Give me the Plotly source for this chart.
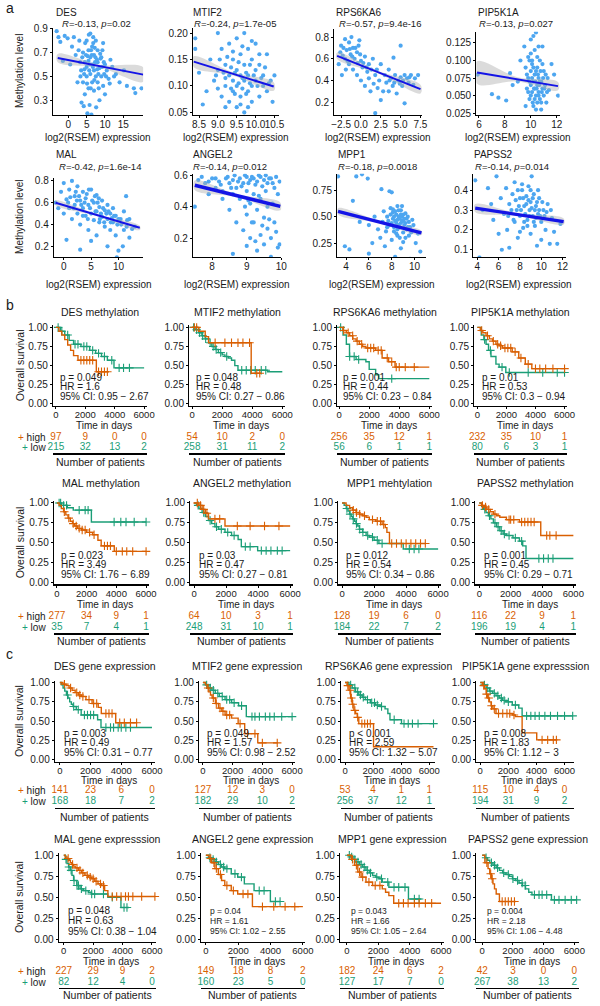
import numpy as np
import plotly.graph_objects as go

# ======================= DATA: panel a (scatter) =======================
A_GENES = ['DES', 'MTIF2', 'RPS6KA6', 'PIP5K1A', 'MAL', 'ANGEL2', 'MPP1', 'PAPSS2']
A_R = ['-0.13', '-0.24', '-0.57', '-0.13', '-0.42', '-0.14', '-0.18', '-0.14']
A_P = ['0.02', '1.7e-05', '9.4e-16', '0.027', '1.6e-14', '0.012', '0.0018', '0.014']

DES_PTS = [(-3.2,0.88),(-2.7,0.83),(-2.2,0.79),(-1.5,0.63),(-1.0,0.84),(-0.2,0.82),(0.5,0.60),(1.0,0.75),(1.5,0.83),(2.0,0.68),
           (2.5,0.45),(2.8,0.72),(3.0,0.80),(3.5,0.55),(4.0,0.70),(4.0,0.45),(4.5,0.62),(4.5,0.35),(5.0,0.80),(5.0,0.50),
           (5.0,0.58),(5.5,0.72),(5.5,0.63),(5.5,0.40),(6.0,0.86),(6.0,0.66),(6.0,0.52),(6.5,0.75),(6.5,0.45),(6.5,0.60),
           (7.0,0.68),(7.0,0.55),(7.0,0.38),(7.5,0.80),(7.5,0.50),(8.0,0.62),(8.0,0.45),(8.0,0.72),(8.5,0.57),(8.5,0.30),
           (9.0,0.66),(9.0,0.50),(9.5,0.78),(9.5,0.42),(10.0,0.60),(10.0,0.35),(10.5,0.55),(11.0,0.48),(11.5,0.64),(4.2,0.25),
           (5.2,0.19),(6.3,0.18),(5.8,0.26),(7.6,0.24),(3.6,0.28),(12.0,0.58),(13.0,0.52),(14.0,0.45),(15.2,0.55),(16.0,0.42),
           (17.9,0.40),(18.3,0.36),(20.0,0.40),(6.8,0.78),(8.8,0.65),(9.8,0.52),(4.8,0.68),(7.3,0.62),
           (3.2,0.62),(3.8,0.66),(4.3,0.52),(4.6,0.78),(5.3,0.67),(5.7,0.55),(6.2,0.72),(6.7,0.58),(7.2,0.74),(7.8,0.64),
           (8.2,0.52),(8.7,0.69),(9.2,0.58),(9.7,0.62),(5.1,0.44),(6.1,0.40),(7.1,0.47),(8.3,0.40),(4.4,0.56),(6.8,0.83),
           (5.6,0.85),(7.9,0.56),(3.3,0.50),(9.3,0.72),(10.3,0.50),(11.3,0.44),(12.5,0.50),(6.4,0.68),(7.4,0.66),(5.9,0.60)]
MTIF2_PTS = [(8.4,0.19),(8.4,0.17),(8.5,0.125),(8.7,0.09),(8.6,0.065),(8.8,0.15),(8.9,0.11),(9.0,0.20),(9.0,0.13),(9.1,0.17),
             (9.1,0.08),(9.2,0.14),(9.2,0.10),(9.3,0.18),(9.3,0.12),(9.3,0.07),(9.4,0.15),(9.4,0.11),(9.4,0.09),(9.5,0.19),
             (9.5,0.13),(9.5,0.10),(9.5,0.06),(9.6,0.16),(9.6,0.12),(9.6,0.08),(9.7,0.20),(9.7,0.14),(9.7,0.11),(9.7,0.05),
             (9.8,0.17),(9.8,0.12),(9.8,0.09),(9.9,0.15),(9.9,0.10),(9.9,0.07),(10.0,0.18),(10.0,0.13),(10.0,0.11),(10.1,0.14),
             (10.1,0.08),(10.2,0.12),(10.2,0.10),(10.3,0.09),(10.3,0.16),(10.4,0.11),(10.5,0.12),(10.45,0.07),(9.0,0.095),(9.2,0.06),
             (9.25,0.155),(9.35,0.135),(9.45,0.125),(9.55,0.145),(9.65,0.115),(9.75,0.125),(9.85,0.14),(9.95,0.12),(9.55,0.105),(9.65,0.095),
             (9.35,0.095),(9.85,0.105),(10.05,0.10),(9.15,0.125),(9.45,0.085),(9.75,0.085),(10.15,0.115),(9.05,0.15),(9.65,0.175),(9.9,0.185),
             (10.25,0.135),(9.4,0.165),(8.95,0.12),(10.35,0.105),(9.6,0.065),(9.8,0.06),(10.1,0.16),(9.2,0.115)]
RPS6KA6_PTS = [(-2.8,0.55),(-2.5,0.72),(-2.3,0.63),(-2.0,0.78),(-2.0,0.60),(-1.8,0.68),(-1.5,0.75),(-1.5,0.55),(-1.3,0.64),(-1.0,0.70),
               (-1.0,0.50),(-0.8,0.60),(-0.5,0.66),(-0.5,0.45),(-0.3,0.72),(0.0,0.58),(0.0,0.40),(0.2,0.52),(0.5,0.62),(0.5,0.35),
               (0.8,0.48),(1.0,0.55),(1.0,0.42),(1.3,0.50),(1.5,0.60),(1.8,0.45),(2.0,0.50),(2.3,0.40),(2.5,0.55),(2.5,0.22),
               (2.8,0.30),(3.0,0.45),(3.2,0.38),(3.5,0.50),(3.5,0.30),(3.8,0.42),(4.1,0.61),(4.0,0.35),(4.3,0.45),(4.5,0.28),
               (4.7,0.40),(5.0,0.72),(5.0,0.43),(5.2,0.35),(5.5,0.45),(5.5,0.19),(5.8,0.42),(6.0,0.38),(6.3,0.45),(6.8,0.42),
               (7.2,0.45),(1.8,0.10),(-1.2,0.80),(-0.2,0.77),(1.2,0.30),
               (-2.6,0.66),(-2.2,0.70),(-1.7,0.58),(-1.4,0.69),(-1.1,0.62),(-0.7,0.70),(-0.4,0.56),(-0.1,0.64),(0.3,0.56),(0.7,0.52),
               (-2.4,0.45),(-1.9,0.50),(3.6,0.40),(4.2,0.38),(4.9,0.37),(5.3,0.40),(6.1,0.43),(2.1,0.33),(1.6,0.37),(6.6,0.36)]
PIP5K1A_PTS = [(5.9,0.080),(7.0,0.052),(7.5,0.047),(8.1,0.043),(8.4,0.082),(8.6,0.065),(9.0,0.070),(9.2,0.100),(12.1,0.050),(11.8,0.080),
               (11.6,0.095),(9.5,0.120),(9.6,0.090),(9.7,0.060),(9.8,0.105),(9.8,0.075),(9.9,0.045),(10.0,0.130),(10.0,0.085),(10.0,0.065),
               (10.1,0.055),(10.1,0.095),(10.2,0.070),(10.2,0.035),(10.3,0.115),(10.3,0.080),(10.3,0.060),(10.4,0.050),(10.4,0.140),(10.5,0.090),
               (10.5,0.065),(10.5,0.040),(10.6,0.075),(10.6,0.055),(10.7,0.100),(10.7,0.045),(10.8,0.070),(10.8,0.030),(10.9,0.060),(11.0,0.085),
               (11.0,0.050),(11.1,0.065),(11.2,0.040),(11.3,0.075),(9.6,0.035),(10.9,0.120),(9.9,0.100),(10.4,0.030),(10.2,0.135),(11.4,0.058),
               (9.7,0.080),(9.9,0.070),(10.0,0.050),(10.1,0.075),(10.2,0.090),(10.25,0.060),(10.35,0.070),(10.45,0.060),(10.55,0.080),(10.6,0.050),
               (10.65,0.065),(10.75,0.085),(10.85,0.055),(10.95,0.075),(11.05,0.060),(11.15,0.080),(10.3,0.045),(10.5,0.105),(10.8,0.040),(10.0,0.110),
               (10.4,0.085),(10.7,0.070),(9.8,0.055),(11.25,0.055),(10.15,0.040),(10.6,0.120),(10.9,0.095),(10.1,0.100)]
MAL_PTS = [(-1.5,0.60),(-1.0,0.55),(-0.5,0.70),(0.0,0.50),(0.0,0.78),(0.5,0.63),(0.5,0.26),(1.0,0.72),(1.0,0.55),(1.5,0.80),
           (1.5,0.45),(2.0,0.66),(2.0,0.58),(2.5,0.75),(2.5,0.50),(3.0,0.62),(3.0,0.40),(3.0,0.17),(3.5,0.70),(3.5,0.55),
           (4.0,0.64),(4.0,0.48),(4.5,0.58),(4.5,0.35),(5.0,0.72),(5.0,0.50),(5.0,0.25),(5.5,0.60),(5.5,0.44),(6.0,0.67),
           (6.0,0.52),(6.0,0.30),(6.5,0.56),(6.5,0.42),(7.0,0.62),(7.0,0.47),(7.5,0.53),(7.5,0.38),(8.0,0.58),(8.0,0.45),
           (8.0,0.20),(8.5,0.50),(8.5,0.35),(9.0,0.55),(9.0,0.42),(9.5,0.48),(9.5,0.30),(10.0,0.45),(10.0,0.16),(10.5,0.40),
           (11.0,0.52),(11.0,0.35),(11.5,0.38),(12.0,0.45),(12.0,0.28),(12.5,0.36),(13.0,0.38),(10.8,0.20),(9.7,0.10),(11.4,0.66),
           (1.2,0.65),(2.2,0.70),(3.2,0.58),(3.8,0.60),(4.2,0.68),(4.8,0.55),(5.2,0.62),(5.8,0.52),(6.2,0.60),(6.8,0.50),
           (7.2,0.55),(7.8,0.50),(8.2,0.52),(8.8,0.46),(9.2,0.48),(2.8,0.66),(3.5,0.48),(4.4,0.45),(5.7,0.66),(6.6,0.45),
           (7.4,0.42),(8.6,0.42),(9.8,0.40),(10.4,0.45),(0.8,0.60),(1.8,0.55),(2.4,0.62),(4.6,0.72),(6.4,0.64),(11.6,0.44)]
ANGEL2_PTS = [(7.5,0.40),(7.6,0.57),(7.8,0.55),(7.9,0.48),(8.0,0.58),(8.1,0.52),(8.2,0.56),(8.3,0.50),(8.3,0.45),(8.4,0.58),
              (8.5,0.55),(8.5,0.38),(8.6,0.57),(8.7,0.52),(8.7,0.30),(8.8,0.58),(8.8,0.45),(8.9,0.55),(8.9,0.25),(9.0,0.59),
              (9.0,0.50),(9.0,0.35),(9.0,0.15),(9.1,0.57),(9.1,0.42),(9.1,0.20),(9.2,0.58),(9.2,0.48),(9.2,0.30),(9.3,0.56),
              (9.3,0.38),(9.3,0.12),(9.4,0.59),(9.4,0.45),(9.4,0.22),(9.5,0.57),(9.5,0.33),(9.5,0.16),(9.6,0.55),(9.6,0.40),
              (9.6,0.26),(9.7,0.58),(9.7,0.20),(9.7,0.08),(9.8,0.52),(9.8,0.30),(9.9,0.48),(9.9,0.14),(9.95,0.56),(9.95,0.16),
              (8.6,0.10),(9.2,0.04),
              (7.7,0.59),(7.9,0.56),(8.1,0.58),(8.25,0.54),(8.45,0.59),(8.55,0.52),(8.65,0.60),(8.75,0.56),(8.85,0.53),(8.95,0.60),
              (9.05,0.55),(9.15,0.59),(9.25,0.54),(9.35,0.60),(9.45,0.53),(9.55,0.60),(9.65,0.58),(9.75,0.55),(9.85,0.59),(9.05,0.44),
              (9.35,0.47),(9.55,0.50),(9.15,0.30),(9.45,0.28),(9.65,0.32),(8.95,0.40),(9.25,0.18),(9.75,0.42),(8.6,0.48),(9.85,0.24)]
MPP1_PTS = [(3.3,0.88),(4.9,0.88),(5.4,0.90),(5.9,0.86),(7.1,0.76),(7.8,0.74),(8.0,0.73),(4.6,0.65),(3.9,0.22),(4.3,0.19),
            (6.0,0.15),(7.0,0.09),(9.6,0.10),(5.2,0.45),(6.0,0.42),(6.5,0.50),(6.8,0.38),(7.0,0.30),(7.2,0.45),(7.3,0.55),
            (7.5,0.36),(7.6,0.50),(7.8,0.42),(7.9,0.58),(8.0,0.28),(8.1,0.48),(8.2,0.36),(8.3,0.55),(8.4,0.44),(8.5,0.60),
            (8.5,0.32),(8.6,0.50),(8.7,0.40),(8.8,0.56),(8.8,0.20),(8.9,0.46),(9.0,0.35),(9.0,0.52),(9.1,0.42),(9.2,0.30),
            (9.3,0.48),(9.4,0.40),(9.5,0.45),(9.7,0.35),(9.9,0.42),(10.1,0.25),(10.5,0.17),(8.3,0.12),(7.4,0.22),(8.9,0.60),
            (6.3,0.25),(9.2,0.53),
            (7.7,0.46),(7.9,0.52),(8.0,0.44),(8.1,0.54),(8.2,0.50),(8.3,0.46),(8.4,0.52),(8.5,0.47),(8.6,0.42),(8.6,0.56),
            (8.7,0.48),(8.8,0.44),(8.9,0.50),(9.0,0.46),(9.1,0.48),(9.2,0.44),(9.3,0.38),(9.4,0.50),(9.6,0.40),(8.2,0.40),
            (8.4,0.34),(8.7,0.30),(9.0,0.26),(9.5,0.32),(7.6,0.40),(8.8,0.52),(9.8,0.47),(8.1,0.57),(10.3,0.34),(8.5,0.38)]
PAPSS2_PTS = [(3.8,0.45),(4.2,0.06),(4.5,0.30),(5.0,0.41),(5.3,0.33),(5.5,0.25),(5.8,0.47),(6.0,0.18),(6.2,0.36),(6.5,0.28),
              (6.7,0.41),(6.8,0.20),(7.0,0.33),(7.0,0.11),(7.3,0.38),(7.4,0.25),(7.5,0.44),(7.7,0.30),(7.8,0.16),(8.0,0.36),
              (8.0,0.27),(8.2,0.40),(8.3,0.21),(8.4,0.32),(8.5,0.05),(8.6,0.37),(8.7,0.25),(8.8,0.42),(8.9,0.30),(9.0,0.34),
              (9.0,0.18),(9.2,0.27),(9.3,0.38),(9.4,0.22),(9.5,0.32),(9.6,0.12),(9.7,0.28),(9.8,0.36),(10.0,0.24),(10.0,0.15),
              (10.2,0.30),(10.4,0.20),(10.6,0.33),(10.8,0.13),(11.0,0.26),(11.2,0.19),(11.5,0.13),(11.8,0.23),(9.1,0.47),(6.3,0.10),
              (7.2,0.30),(7.6,0.35),(7.9,0.32),(8.1,0.30),(8.3,0.36),(8.5,0.28),(8.6,0.33),(8.8,0.35),(8.9,0.27),(9.1,0.31),
              (9.2,0.36),(9.4,0.30),(9.5,0.26),(9.6,0.34),(9.8,0.30),(9.9,0.27),(10.1,0.34),(10.3,0.27),(8.4,0.24),(8.7,0.22),
              (9.3,0.24),(7.5,0.24),(8.2,0.43),(9.7,0.40),(10.5,0.29),(6.9,0.27),(7.8,0.40),(10.9,0.30),(9.0,0.40),(8.0,0.19)]
A_POINTS = [DES_PTS, MTIF2_PTS, RPS6KA6_PTS, PIP5K1A_PTS, MAL_PTS, ANGEL2_PTS, MPP1_PTS, PAPSS2_PTS]

# regression line end points and confidence half-widths (left, middle, right)
FIT_X = [[-2.9, 20.5], [8.36, 10.48], [-3.0, 7.5], [5.85, 12.1], [-1.5, 13.9], [7.5, 9.97], [3.3, 10.6], [3.8, 12.1]]
FIT_Y = [[0.654, 0.515], [0.146, 0.099], [0.627, 0.321], [0.083, 0.0635], [0.60, 0.37], [0.537, 0.402], [0.55, 0.347], [0.31, 0.242]]
BAND_HW = [[0.035, 0.012, 0.06], [0.01, 0.003, 0.008], [0.03, 0.012, 0.04], [0.016, 0.003, 0.006],
           [0.02, 0.008, 0.02], [0.03, 0.008, 0.025], [0.03, 0.01, 0.02], [0.02, 0.006, 0.015]]

A_XTICKS = [[0, 5, 10, 15], [8.5, 9.0, 9.5, 10.0, 10.5], [-2.5, 0.0, 2.5, 5.0, 7.5], [6, 8, 10, 12],
            [0, 5, 10], [8, 9, 10], [4, 6, 8, 10], [4, 6, 8, 10, 12]]
A_YTICKS = [[0.3, 0.5, 0.7, 0.9], [0.05, 0.10, 0.15, 0.20], [0.2, 0.4, 0.6, 0.8], [0.025, 0.05, 0.075, 0.1, 0.125],
            [0.2, 0.4, 0.6, 0.8], [0.2, 0.4, 0.6], [0.25, 0.5, 0.75], [0.1, 0.2, 0.3, 0.4]]

# ======================= DATA: panels b, c (Kaplan-Meier) =======================
B_TITLES = ['DES methylation', 'MTIF2 methylation', 'RPS6KA6 methylation', 'PIP5K1A methylation',
            'MAL methylation', 'ANGEL2 methylation', 'MPP1 mehtylation', 'PAPSS2 methylation']
B_P = ['p = 0.049', 'p = 0.048', 'p = 0.001', 'p = 0.01', 'p = 0.023', 'p = 0.03', 'p = 0.012', 'p = 0.001']
B_HR = ['HR = 1.6', 'HR = 0.48', 'HR = 0.44', 'HR = 0.53', 'HR = 3.49', 'HR = 0.47', 'HR = 0.54', 'HR = 0.45']
B_CI = ['95% CI: 0.95 − 2.67', '95% CI: 0.27 − 0.86', '95% CI: 0.23 − 0.84', '95% CI: 0.3 − 0.94',
        '95% CI: 1.76 − 6.89', '95% CI: 0.27 − 0.81', '95% CI: 0.34 − 0.86', '95% CI: 0.29 − 0.71']

B_HI_T = [[0,200,400,600,800,1000,1200,1500,2750],
          [0,440,870,1090,3930],
          [0,250,480,700,910,1130,1340,1560,1780,2430,2860,3290,3720],
          [0,200,380,600,830,1050,1280,1500,1730,2400,2850,3300,3750],
          [0,150,300,450,600,750,900,1050,1200,1400,1650,2000,2400,2760,2980,3860],
          [0,300,500,700,900,1930],
          [0,250,470,660,870,1080,1280,1500,1700,2100,2500,2700,2800,2960],
          [0,150,300,480,700,900,1100,1310,1730,2560,3920]]
B_HI_S = [[1,0.95,0.9,0.84,0.77,0.7,0.63,0.57,0.42],
          [1,0.95,0.88,0.8,0.4],
          [1,0.96,0.93,0.89,0.85,0.82,0.78,0.75,0.73,0.7,0.6,0.55,0.48],
          [1,0.96,0.93,0.89,0.85,0.82,0.78,0.76,0.73,0.68,0.6,0.52,0.46],
          [1,0.97,0.93,0.89,0.85,0.81,0.77,0.74,0.71,0.68,0.66,0.63,0.6,0.53,0.46,0.39],
          [1,0.97,0.92,0.87,0.8,0.71],
          [1,0.97,0.94,0.91,0.88,0.86,0.84,0.82,0.79,0.77,0.73,0.69,0.63,0.49],
          [1,0.97,0.95,0.92,0.89,0.86,0.84,0.82,0.79,0.76,0.59]]
B_HI_END = [3600, 4580, 6000, 6000, 6000, 6000, 5250, 6000]
B_HI_CENS = [[1700,1900,2100,2300,2500,2900,3100,3300,3500],
             [150,300,1530,2180,2620,3050,3380,3820,4300,4500],
             [300,600,900,1200,1500,1900,2100,2300,2600,2800,3200,3500,3800,4000,4400,5000],
             [300,700,1100,1400,1600,1900,2100,2300,2600,3000,3500,4000,4300,4700,5200,6000],
             [500,800,1100,1300,1500,1700,1900,2200,2500,3200,3400,3600,4000,4400,4700,5100,6000],
             [200,400,600,800,1300,1600,2700,3500,4400,5300],
             [700,900,1100,1400,1900,2200,2400,2600,3100,3400,3700,4000,4300,4600,4900,5200],
             [200,400,600,1000,1900,2000,2200,2700,2900,3100,3300,3500,4300,4500,4900]]
B_LO_T = [[0,300,600,900,1200,1700,2300,2700,3100,3500,3950],
          [0,200,440,650,870,1100,1310,1530,1750,2000,2180,2400,2620,2840,3050,5020],
          [0,260,480,690,1130,1780,2000,2430,2640],
          [0,270,450,600,770,940,1280,1500,1960],
          [0,300,700,1100,2320],
          [0,150,300,500,700,900,1100,1300,1530,1930,2340,2750,2950,3970],
          [0,130,260,370,470,570,670,780,870,980,1080,1280,1500,1700,2000,2300,3820],
          [0,150,270,430,580,740,900,1100,1310,1520,1730,2150,2560,2770,2980]]
B_LO_S = [[1,0.95,0.9,0.83,0.78,0.75,0.70,0.66,0.62,0.57,0.47],
          [1,0.97,0.93,0.89,0.85,0.8,0.75,0.71,0.67,0.64,0.62,0.6,0.57,0.5,0.44,0.42],
          [1,0.9,0.78,0.62,0.58,0.55,0.45,0.38,0.33],
          [1,0.9,0.84,0.78,0.7,0.62,0.52,0.48,0.41],
          [1,0.97,0.94,0.91,0.76],
          [1,0.97,0.93,0.88,0.83,0.78,0.74,0.7,0.67,0.63,0.59,0.54,0.45,0.4],
          [1,0.97,0.93,0.9,0.86,0.83,0.8,0.77,0.74,0.71,0.67,0.63,0.59,0.57,0.53,0.49,0.42],
          [1,0.96,0.92,0.88,0.84,0.8,0.75,0.7,0.65,0.61,0.59,0.56,0.52,0.46,0.3]]
B_LO_END = [6000, 6000, 6000, 6000, 6000, 6000, 6000, 6000]
B_LO_CENS = [[150,400,800,1300,1500,1900,2100,2500,2900,3300,3800,4300,4600,5000],
             [100,300,500,700,900,1200,1400,1600,1900,2300,3300,3600,3900,4200,4600,4900],
             [100,700,1000,1300,3500],
             [500,900,1700,2200,3500,4500,5500,6000],
             [150,250,450,650,1500,1900,2100,3850,4300,4650,5200,6000],
             [250,600,1000,1400,1700,2100,2500,3200,3500,4200,4500,4800,5200,5500],
             [300,500,700,900,1100,1300,1600,1900,2200,2500,4200,4500,4800],
             [350,650,1000,1200,1400,1600,1900,2300,2700,3800,4100,4400,4700]]
B_RISK_HI = [[97,9,0,0],[54,10,2,0],[256,35,12,1],[232,35,10,1],[277,34,9,1],[64,10,3,1],[128,19,6,0],[116,22,9,1]]
B_RISK_LO = [[215,32,13,2],[258,31,11,2],[56,6,1,1],[80,6,3,1],[35,7,4,1],[248,31,10,1],[184,22,7,2],[196,19,4,1]]

C_TITLES = ['DES gene expression', 'MTIF2 gene expression', 'RPS6KA6 gene expression', 'PIP5K1A gene expresssion',
            'MAL gene expresssion', 'ANGEL2 gene expression', 'MPP1 gene expression', 'PAPSS2 gene expression']
C_P = ['p = 0.003', 'p = 0.049', 'p < 0.001', 'p = 0.008', 'p = 0.048', 'p = 0.04', 'p = 0.043', 'p = 0.004']
C_HR = ['HR = 0.49', 'HR = 1.57', 'HR = 2.59', 'HR = 1.83', 'HR = 0.63', 'HR = 1.61', 'HR = 1.66', 'HR = 2.18']
C_CI = ['95% CI: 0.31 − 0.77', '95% CI: 0.98 − 2.52', '95% CI: 1.32 − 5.07', '95% CI: 1.12 − 3',
        '95% CI: 0.38 − 1.04', '95% CI: 1.02 − 2.55', '95% CI: 1.05 − 2.64', '95% CI: 1.06 − 4.48']
C_HI_T = [[0,200,400,600,800,1000,1200,1400,1700,2100,2500,2700,3640],
          [0,170,290,400,510,620,840,1050,1270,1490,1930,2370,2810,3690],
          [0,150,280,400,510,630,750,870,980,2030],
          [0,150,300,420,530,650,770,900,1120,2280,2500,2980,4020],
          [0,100,220,330,450,550,670,780,1000,1220,1440,1670,1890,2110,2330,2560,2780,3000],
          [0,200,360,560,770,970,1170,1570,1970,2880],
          [0,270,480,690,900,1210,1630,2250,2460,2670,2980],
          [0,170,380,490,600,700,800,910,1120]]
C_HI_S = [[1,0.98,0.96,0.93,0.9,0.87,0.84,0.82,0.78,0.73,0.68,0.6,0.48],
          [1,0.97,0.93,0.88,0.84,0.8,0.73,0.67,0.63,0.58,0.54,0.47,0.34,0.22],
          [1,0.96,0.9,0.8,0.72,0.64,0.6,0.55,0.47,0.17],
          [1,0.96,0.92,0.85,0.8,0.75,0.7,0.66,0.6,0.58,0.56,0.35,0.26],
          [1,0.98,0.96,0.94,0.91,0.89,0.87,0.85,0.82,0.79,0.76,0.74,0.72,0.69,0.66,0.64,0.58,0.51],
          [1,0.96,0.91,0.84,0.77,0.7,0.64,0.58,0.54,0.39],
          [1,0.95,0.88,0.8,0.74,0.68,0.64,0.6,0.56,0.52,0.43],
          [1,0.91,0.84,0.78,0.72,0.66,0.6,0.54,0.45]]
C_HI_END = [5040, 5010, 6300, 5420, 6220, 6000, 6000, 2180]
C_HI_CENS = [[300,700,1100,1300,1500,1900,2200,2400,3000,3200,3400,3900,4200,4600,5000],
             [350,700,900,1150,1350,1600,1800,2500,3000,3500,4000,5000],
             [200,350,450,550,700,900,1200,1400,1600,1800],
             [250,450,600,800,1000,1300,1600,1900,2100,2400,4400,4800,5200,5420],
             [300,600,900,1100,1300,1600,1800,2000,2200,2500,2700,3300,3600,3900,4200,4400,4700,5300,6200],
             [300,500,650,900,1300,1700,2300,2600,3500,4200,4900,5500],
             [350,600,800,1000,1400,1800,2100,3300,3600,3900,4300,4600,5000,5400],
             [300,550,650,1300,1500,1700,1900,2100]]
C_LO_T = [[0,100,210,320,430,530,640,750,860,1070,1390,2460,2680],
          [0,170,400,600,830,1100,1490,1930,2400,2920],
          [0,280,510,750,980,1220,1450,1800,2150,2500,2850,3050,3200,4020],
          [0,200,420,650,880,1120,1350,1580,1820,2280,2740,2980],
          [0,110,220,330,440,560,670,890,1110,1330,1670,1890,3000,3890],
          [0,160,360,560,770,970,1170,1570,1970,2380,2980,3990],
          [0,200,380,580,790,1000,1210,1420,1630,1840,2040,2250,2670,3920],
          [0,170,350,490,700,910,1120,1330,1550,1760,1970,2180,2400,2610,2820,3030,3240,4510]]
C_LO_S = [[1,0.97,0.93,0.89,0.84,0.8,0.75,0.72,0.69,0.65,0.58,0.52,0.42],
          [1,0.97,0.93,0.9,0.86,0.82,0.78,0.74,0.7,0.56],
          [1,0.97,0.93,0.88,0.84,0.81,0.78,0.74,0.71,0.69,0.66,0.6,0.52,0.47],
          [1,0.97,0.93,0.89,0.86,0.83,0.8,0.77,0.75,0.71,0.67,0.57],
          [1,0.95,0.9,0.86,0.82,0.76,0.7,0.64,0.6,0.58,0.56,0.54,0.5,0.38],
          [1,0.97,0.95,0.92,0.89,0.86,0.84,0.78,0.74,0.66,0.58,0.45],
          [1,0.98,0.95,0.92,0.89,0.86,0.82,0.79,0.76,0.74,0.72,0.68,0.62,0.48],
          [1,0.97,0.94,0.91,0.88,0.85,0.82,0.79,0.77,0.75,0.72,0.7,0.67,0.64,0.6,0.56,0.53,0.47]]
C_LO_END = [6000, 6000, 6300, 6580, 4440, 4590, 4750, 6150]
C_LO_CENS = [[500,900,1200,1600,1800,2000,2200,3000,3300,3500,3800,4000,4300,4600],
             [250,500,700,1000,1300,1600,1800,2100,2600,3300,3500,3800,4200,4500,4800,5300,6000],
             [400,700,900,1100,1300,1600,1900,2100,2300,2600,3500,4200,4500,4800,5200,6300],
             [300,500,700,1000,1250,1500,1700,2000,2500,3300,3600,3900,4200,4600,5000,5500,6000,6580],
             [150,350,500,700,900,1000,1200,1500,1900,2100,2700,3300,4100,4300],
             [250,450,650,900,1100,1300,1800,2200,3300,3600,4300,4590],
             [150,300,500,700,900,1100,1300,1500,1900,2200,2600,3000,3300,3700,4300,4600],
             [250,600,800,1000,1400,1700,2000,2300,2600,2800,3400,3700,3900,4200,4700,5000,5400,5800,6150]]
C_RISK_HI = [[141,23,6,0],[127,12,3,0],[53,4,1,1],[115,10,4,0],[227,29,9,2],[149,18,8,2],[182,24,6,2],[42,3,0,0]]
C_RISK_LO = [[168,18,7,2],[182,29,10,2],[256,37,12,1],[194,31,9,2],[82,12,4,0],[160,23,5,0],[127,17,7,0],[267,38,13,2]]

RISK_TIMES = [0, 2000, 4000, 6000]
KM_XTICKS = [0, 2000, 4000, 6000]
KM_YTICKS = [0.0, 0.25, 0.5, 0.75, 1.0]

# ======================= STYLE / LAYOUT =======================
W, H = 600, 1006
ORANGE = '#D95F02'
GREEN = '#1B9E77'
PT_COL = '#4DA6F0'
LINE_COL = '#1414E6'
FONT = 'Liberation Sans, Arial, sans-serif'
TXT = '#1a1a1a'


def fx(px):
    return px / W


def fy(py):
    return 1 - py / H


# scatter boxes (left, right, top, bottom) in px; tick anchors (value, px, value, px) give the axis scale
A_BOX = [(51, 143, 24, 112), (194, 282, 24, 112), (338, 428, 25, 112), (483, 568, 28, 112),
         (52, 143, 175, 255), (194, 284, 171, 255), (341, 432, 171, 255), (480, 574, 171, 255)]
A_XANCH = [(0, 66.7, 15, 122.7), (8.5, 200, 10.5, 277), (-2.5, 345, 7.5, 426), (6, 485.7, 12, 565),
           (0, 62, 10, 117.8), (8, 213.4, 10, 284), (4, 350, 10, 420), (4, 484, 12, 571)]
A_YANCH = [(0.9, 25, 0.3, 97), (0.20, 29.3, 0.05, 109.3), (0.8, 33.3, 0.2, 99), (0.125, 39.3, 0.025, 110),
           (0.8, 178.3, 0.2, 244.3), (0.6, 172.7, 0.2, 236), (0.75, 187.7, 0.25, 241), (0.4, 187.7, 0.1, 247.7)]
A_XFMT = ['d', '.1f', '.1f', 'd', 'd', 'd', 'd', 'd']
A_YFMT = ['.1f', '.2f', '.1f', '.3f', '.1f', '.1f', '.2f', '.1f']
A_TITLE_X = [52, 192, 338, 483, 52, 192, 340, 479]
A_TITLE_Y = [8.5, 8.5, 8.5, 8.5, 152, 152, 152, 152]
A_R_X = [58, 193, 341, 484, 55, 192, 340, 480]
A_R_Y = [19.5, 19.5, 19.5, 19.5, 163.5, 163.5, 163.5, 163.5]
A_XTITLE_Y = [135, 283]
A_LINEW = [2, 2, 2, 2, 2, 3.5, 3.5, 3.2]

# KM rows: (Y of 1.00, Y of 0.00, title y, time title y, high row y, low row y, "Number" y)
KM_ROWS = [(326, 403, 310, 425, 437, 447, 462),
           (503, 583, 483, 605, 617.5, 628.5, 642),
           (684, 762, 667, 783, 793, 804, 820),
           (858, 943, 842, 965, 975, 986, 999)]
KM_COLS = [[(51, 54, 144, 147), (190, 193, 285, 288), (341, 343, 435, 438), (481, 484, 573, 576)],
           [(52, 55, 146, 149), (191, 195, 293, 296), (342, 346, 444, 447), (482, 486, 582, 585)],
           [(53, 58, 152, 155), (200, 204, 295, 298), (345, 349, 435, 441), (483, 487, 573, 583)],
           [(57, 62, 152, 156), (202, 207, 306, 308), (344, 351, 447, 450), (483, 489, 583, 588)]]
STAT_SIZE = [[10, 10, 10, 10], [10, 10, 10, 10], [10, 10, 10, 10], [10, 8.5, 8.5, 8.5]]

fig = go.Figure()
layout = {}
annotations = []
counter = [0]

BASE_AX = dict(showline=True, linecolor='black', linewidth=1.2, ticks='outside', ticklen=2, tickwidth=1,
               tickcolor='black', showgrid=False, zeroline=False, fixedrange=True, tickangle=0,
               tickfont=dict(size=10, color=TXT, family=FONT))


def new_axes(left, right, top, bottom, xr, yr):
    counter[0] += 1
    n = counter[0]
    s = '' if n == 1 else str(n)
    xa = dict(BASE_AX)
    xa.update(domain=[fx(left), fx(right)], range=xr, anchor='y' + s, ticklabelstandoff=-2)
    ya = dict(BASE_AX)
    ya.update(domain=[fy(bottom), fy(top)], range=yr, anchor='x' + s)
    layout['xaxis' + s] = xa
    layout['yaxis' + s] = ya
    return 'x' + s, 'y' + s, 'xaxis' + s, 'yaxis' + s


def ann(text, x, y, size=10, xanchor='center', yanchor='middle', color=TXT, angle=0, xref='paper', yref='paper'):
    annotations.append(dict(text=text, x=x, y=y, xref=xref, yref=yref, showarrow=False, xanchor=xanchor,
                            yanchor=yanchor, textangle=angle, font=dict(size=size, color=color, family=FONT)))


def anchored_range(anchor, p_lo, p_hi):
    v1, p1, v2, p2 = anchor
    k = (v2 - v1) / (p2 - p1)
    return [v1 + (p_lo - p1) * k, v1 + (p_hi - p1) * k]


# ---------------- panel a ----------------
for i in range(8):
    left, right, top, bottom = A_BOX[i]
    xrange_ = anchored_range(A_XANCH[i], left, right)
    yrange_ = anchored_range(A_YANCH[i], bottom, top)
    xr, yr, xaxn, yaxn = new_axes(left, right, top, bottom, xrange_, yrange_)
    layout[xaxn].update(tickvals=A_XTICKS[i], tickformat=A_XFMT[i])
    layout[yaxn].update(tickvals=A_YTICKS[i], tickformat=A_YFMT[i])
    pts = A_POINTS[i]
    fig.add_trace(go.Scatter(x=[p[0] for p in pts], y=[p[1] for p in pts], mode='markers', xaxis=xr, yaxis=yr,
                             marker=dict(color=PT_COL, size=4.2, line=dict(width=0)), showlegend=False))
    x0, x1 = FIT_X[i]
    y0, y1 = FIT_Y[i]
    xm, ym = (x0 + x1) / 2, (y0 + y1) / 2
    bl, bm, br = BAND_HW[i]
    fig.add_trace(go.Scatter(x=[x0, xm, x1, x1, xm, x0, x0],
                             y=[y0 + bl, ym + bm, y1 + br, y1 - br, ym - bm, y0 - bl, y0 + bl],
                             mode='lines', line=dict(width=0, shape='spline'), fill='toself',
                             fillcolor='rgba(175,175,175,0.45)', xaxis=xr, yaxis=yr, showlegend=False))
    fig.add_trace(go.Scatter(x=[x0, x1], y=[y0, y1], mode='lines', line=dict(color=LINE_COL, width=A_LINEW[i]),
                             xaxis=xr, yaxis=yr, showlegend=False))
    ann(A_GENES[i], fx(A_TITLE_X[i]), fy(A_TITLE_Y[i]), size=10, xanchor='left')
    ann('<i>R</i>=' + A_R[i] + ', <i>p</i>=' + A_P[i], fx(A_R_X[i]), fy(A_R_Y[i]), size=9.5, xanchor='left')
    ann('log2(RSEM) expression', fx((left + right) / 2), fy(A_XTITLE_Y[i // 4]), size=10)

ann('Methylation level', fx(17), fy((A_BOX[0][2] + A_BOX[0][3]) / 2), size=10, angle=-90)
ann('Methylation level', fx(17), fy((A_BOX[4][2] + A_BOX[4][3]) / 2), size=10, angle=-90)

# ---------------- panels b and c ----------------
KM_SETS = [
    (B_TITLES, B_P, B_HR, B_CI, B_HI_T, B_HI_S, B_HI_END, B_HI_CENS, B_LO_T, B_LO_S, B_LO_END, B_LO_CENS, B_RISK_HI, B_RISK_LO),
    (C_TITLES, C_P, C_HR, C_CI, C_HI_T, C_HI_S, C_HI_END, C_HI_CENS, C_LO_T, C_LO_S, C_LO_END, C_LO_CENS, C_RISK_HI, C_RISK_LO),
]


def step_at(times, surv, t):
    idx = np.searchsorted(np.asarray(times), np.asarray(t), side='right') - 1
    return list(np.asarray(surv)[np.clip(idx, 0, len(surv) - 1)])


for si, kmset in enumerate(KM_SETS):
    (titles, ps, hrs, cis, hiT, hiS, hiE, hiC, loT, loS, loE, loC, rHi, rLo) = kmset
    for k in range(8):
        row = si * 2 + k // 4
        col = k % 4
        Y1, Y0, ty, tty, hy, ly, ny = KM_ROWS[row]
        left, x0p, x6p, right = KM_COLS[row][col]
        sc = (x6p - x0p) / 6000.0
        xr = [-(x0p - left) / sc, 6000 + (right - x6p) / sc]
        pad = 0.025
        top = Y1 - pad * (Y0 - Y1)
        bottom = Y0 + pad * (Y0 - Y1)
        xa, ya, xan, yan = new_axes(left, right, top, bottom, xr, [-pad, 1 + pad])
        layout[xan].update(tickvals=KM_XTICKS, tickformat='d', tickfont=dict(size=9.5, color=TXT, family=FONT))
        layout[yan].update(tickvals=KM_YTICKS, tickformat='.2f')
        for T, S, E, C, col_ in ((loT[k], loS[k], loE[k], loC[k], GREEN), (hiT[k], hiS[k], hiE[k], hiC[k], ORANGE)):
            fig.add_trace(go.Scatter(x=list(T) + [E], y=list(S) + [S[-1]], mode='lines',
                                     line=dict(color=col_, width=1.4, shape='hv'), xaxis=xa, yaxis=ya,
                                     showlegend=False))
            cens = [c for c in C if c <= E]
            fig.add_trace(go.Scatter(x=cens, y=step_at(T, S, cens), mode='markers',
                                     marker=dict(symbol='cross-thin', size=6, line=dict(color=col_, width=1.1)),
                                     xaxis=xa, yaxis=ya, showlegend=False, cliponaxis=False))
        # statistics text
        ss = STAT_SIZE[row][col]
        ann(ps[k], 150, 0.34, size=ss, xanchor='left', xref=xa, yref=ya)
        ann(hrs[k], 150, 0.225, size=ss, xanchor='left', xref=xa, yref=ya)
        ann(cis[k], 150, 0.10, size=ss, xanchor='left', xref=xa, yref=ya)
        # titles
        ann(titles[k], fx((left + right) / 2), fy(ty), size=10.5)
        ann('Time in days', fx((left + right) / 2 + 4), fy(tty), size=10)
        # risk table: high -> 1 at hy, low -> 0 at ly
        rb = ly + 6
        rt = hy - 7
        unit = (ly - hy)
        r0 = -(rb - ly) / unit
        r1 = 1 + (hy - rt) / unit
        rxa, rya, rxan, ryan = new_axes(left, right, rt, rb, xr, [r0, r1])
        layout[rxan].update(showticklabels=False, ticks='')
        layout[ryan].update(showticklabels=False, ticks='', showline=False)
        fig.add_trace(go.Scatter(x=RISK_TIMES, y=[1, 1, 1, 1], mode='text', text=[str(v) for v in rHi[k]],
                                 textfont=dict(color=ORANGE, size=10, family=FONT), xaxis=rxa, yaxis=rya,
                                 showlegend=False, cliponaxis=False))
        fig.add_trace(go.Scatter(x=RISK_TIMES, y=[0, 0, 0, 0], mode='text', text=[str(v) for v in rLo[k]],
                                 textfont=dict(color=GREEN, size=10, family=FONT), xaxis=rxa, yaxis=rya,
                                 showlegend=False, cliponaxis=False))
        ann('Number of patients', fx((left + right) / 2), fy(ny), size=10.5)
        if col == 0:
            ann('Overall survival', fx(17), fy((Y1 + Y0) / 2), size=10.5, angle=-90)
            ann("<span style='color:%s'>+</span> high" % ORANGE, fx(46), fy(hy), size=10, xanchor='right')
            ann("<span style='color:%s'>+</span> low" % GREEN, fx(46), fy(ly), size=10, xanchor='right')

ann('a', fx(1), fy(4), size=14, xanchor='left')
ann('b', fx(1), fy(303), size=14, xanchor='left')
ann('c', fx(1), fy(655), size=14, xanchor='left')

layout.update(width=W, height=H, margin=dict(l=0, r=0, t=0, b=0), paper_bgcolor='white', plot_bgcolor='white',
              showlegend=False, annotations=annotations, font=dict(family=FONT, color=TXT))
fig.update_layout(**layout)
fig.write_html('out.html', config={'displayModeBar': False, 'staticPlot': True},
               post_script="document.body.style.margin='0';document.body.style.overflow='hidden';")
